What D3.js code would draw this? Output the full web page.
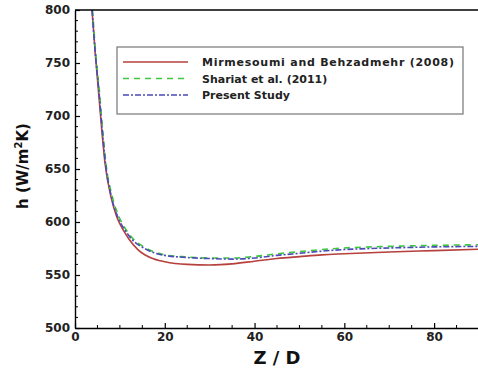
<!DOCTYPE html>
<html>
<head>
<meta charset="utf-8">
<script src="https://cdn.jsdelivr.net/npm/d3@7/dist/d3.min.js"></script>
<style>
  body { margin: 0; background: #fff; }
  svg { display: block; font-family: "DejaVu Sans", Verdana, sans-serif; }
</style>
</head>
<body>
<svg id="chart" width="478" height="372"></svg>
<script>
// Mirmesoumi and Behzadmehr (2008)
const mirmX = [3.8, 4.5, 5.2, 5.9, 6.7, 8.0, 9.3, 10.8, 12, 14, 17, 20, 25, 30, 35, 40, 45, 50, 55, 60, 70, 80, 90];
const mirmY = [800, 760, 725, 690, 655, 624, 605, 592, 584, 574, 566, 562.5, 560, 559.5, 560.5, 563, 565.5, 567.3, 569, 570, 571.7, 573, 574.3];
// Shariat et al. (2011)
const shariatX = [3.9, 4.6, 5.4, 6.1, 6.9, 8.3, 9.8, 11.5, 13, 16, 20, 25, 30, 35, 40, 45, 50, 55, 60, 70, 80, 90];
const shariatY = [800, 760, 725, 690, 655, 624, 605, 592, 584, 575, 569, 567, 566, 566, 567.5, 570, 572, 574, 575.5, 577, 578, 578.5];
// Present Study
const presentX = [3.8, 4.5, 5.3, 6.0, 6.8, 8.1, 9.5, 11.2, 12.6, 15.5, 20, 25, 30, 35, 40, 45, 50, 55, 60, 70, 80, 90];
const presentY = [800, 760, 725, 690, 655, 624, 605, 592, 584, 575, 568.5, 566.5, 565.5, 565, 566, 568.5, 570.5, 572.5, 574, 575.5, 576.5, 577];

const seriesNames = ['Mirmesoumi and Behzadmehr (2008)', 'Shariat et al. (2011)', 'Present Study'];
const xTicks = [0, 20, 40, 60, 80];
const yTicks = [500, 550, 600, 650, 700, 750, 800];

const margin = { top: 10, right: 0, bottom: 44, left: 75 };
const width = 478, height = 372;

const svg = d3.select('#chart');

const x = d3.scaleLinear().domain([0, 90]).range([margin.left, 479]);
const y = d3.scaleLinear().domain([500, 800]).range([328, margin.top]);

const styles = [
  { color: '#b5403c', dash: null },
  { color: '#3ec83e', dash: '6,5' },
  { color: '#4a4ab8', dash: '6,2,2,2' }
];

const series = [
  mirmX.map((d, i) => [d, mirmY[i]]),
  shariatX.map((d, i) => [d, shariatY[i]]),
  presentX.map((d, i) => [d, presentY[i]])
];

svg.append('clipPath').attr('id', 'clip')
  .append('rect')
  .attr('x', x(0)).attr('y', y(800))
  .attr('width', 479 - x(0)).attr('height', y(500) - y(800));

const line = d3.line()
  .x(d => x(d[0]))
  .y(d => y(d[1]))
  .curve(d3.curveMonotoneX);

const plot = svg.append('g').attr('clip-path', 'url(#clip)');
series.forEach((s, i) => {
  plot.append('path')
    .datum(s)
    .attr('d', line)
    .attr('fill', 'none')
    .attr('stroke', styles[i].color)
    .attr('stroke-width', 1.6)
    .attr('stroke-dasharray', styles[i].dash);
});

// axes, ticks pointing inward
const xMinor = d3.range(0, 91, 5).filter(v => v % 20 !== 0);
const yMinor = d3.range(500, 801, 10).filter(v => v % 50 !== 0);

const xAxis = svg.append('g').attr('transform', `translate(0,${y(500)})`)
  .call(d3.axisBottom(x).tickValues(xTicks).tickSizeInner(-5).tickSizeOuter(0).tickPadding(8));
xAxis.append('g').selectAll('line').data(xMinor).join('line')
  .attr('x1', d => x(d)).attr('x2', d => x(d))
  .attr('y1', 0).attr('y2', -3)
  .attr('stroke', '#000');

const yAxis = svg.append('g').attr('transform', `translate(${x(0)},0)`)
  .call(d3.axisLeft(y).tickValues(yTicks).tickSizeInner(-5).tickSizeOuter(0).tickPadding(5));
yAxis.append('g').selectAll('line').data(yMinor).join('line')
  .attr('y1', d => y(d)).attr('y2', d => y(d))
  .attr('x1', 0).attr('x2', 3)
  .attr('stroke', '#000');

[xAxis, yAxis].forEach(a => {
  a.select('.domain').attr('stroke', '#000').attr('stroke-width', 1.4);
  a.selectAll('.tick line').attr('stroke', '#000').attr('stroke-width', 1.2);
  a.selectAll('.tick text')
    .attr('font-family', '"DejaVu Sans", sans-serif')
    .attr('font-size', 12)
    .attr('font-weight', 'bold')
    .attr('fill', '#222');
});
xAxis.selectAll('.tick text').attr('dy', '0.4em');

// top frame line
svg.append('line')
  .attr('x1', x(0)).attr('x2', width)
  .attr('y1', y(800)).attr('y2', y(800))
  .attr('stroke', '#000').attr('stroke-width', 1.4);

// axis titles
svg.append('text')
  .attr('x', 277).attr('y', 364)
  .attr('text-anchor', 'middle')
  .attr('font-size', 18).attr('font-weight', 'bold')
  .attr('fill', '#111')
  .text('Z / D');

const yTitle = svg.append('text')
  .attr('transform', 'translate(28,166) rotate(-90)')
  .attr('text-anchor', 'middle')
  .attr('font-size', 15).attr('font-weight', 'bold')
  .attr('fill', '#111');
yTitle.append('tspan').text('h (W/m');
yTitle.append('tspan').attr('dy', -6).attr('font-size', 10).text('2');
yTitle.append('tspan').attr('dy', 6).text('K)');

// legend
const legend = svg.append('g');
legend.append('rect')
  .attr('x', 117).attr('y', 47)
  .attr('width', 346).attr('height', 67)
  .attr('fill', '#fff')
  .attr('stroke', '#777').attr('stroke-width', 1.2);

seriesNames.forEach((name, i) => {
  const ly = 62 + i * 16.5;
  legend.append('line')
    .attr('x1', 123).attr('x2', 188)
    .attr('y1', ly).attr('y2', ly)
    .attr('stroke', styles[i].color)
    .attr('stroke-width', 1.6)
    .attr('stroke-dasharray', styles[i].dash);
  legend.append('text')
    .attr('x', 202).attr('y', ly + 4)
    .attr('font-size', 11).attr('font-weight', 'bold')
    .attr('fill', '#222')
    .text(name)
    .attr('textLength', i === 0 ? 252 : null);
});
</script>
</body>
</html>
